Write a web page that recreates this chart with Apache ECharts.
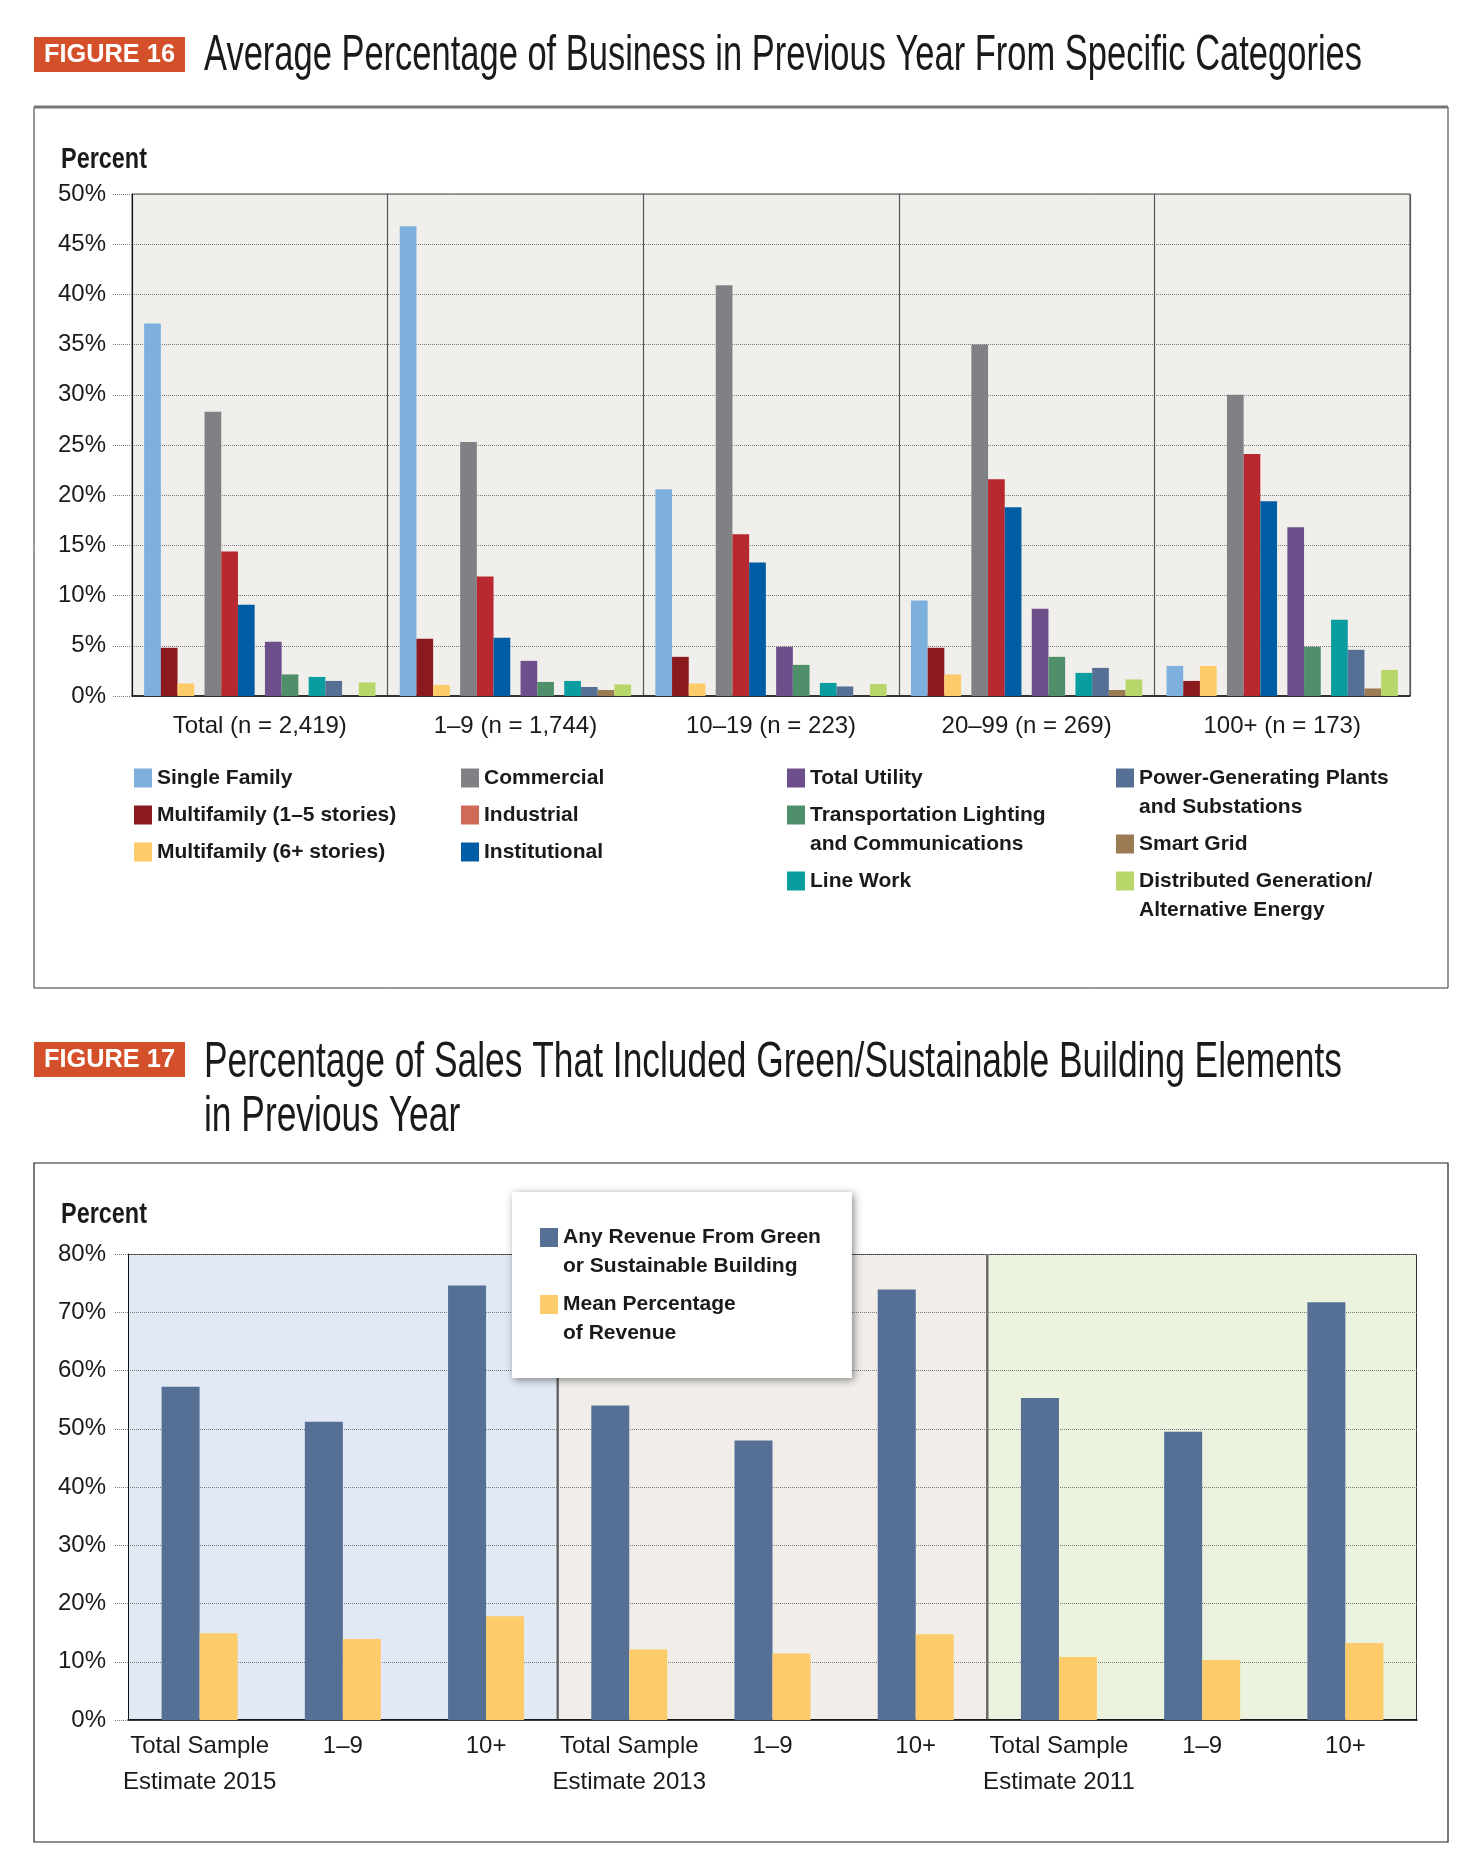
<!DOCTYPE html>
<html>
<head>
<meta charset="utf-8">
<title>Figures 16 and 17</title>
<script src="https://cdn.jsdelivr.net/npm/echarts@6/dist/echarts.min.js"></script>
<style>
  html, body { margin: 0; padding: 0; background: #fff; }
  #main { width: 1482px; height: 1876px; }
</style>
</head>
<body>
<div id="main"></div>
<script>
// ================= data: figure 16 =================
var sizeGroups = ['Total (n = 2,419)', '1–9 (n = 1,744)', '10–19 (n = 223)', '20–99 (n = 269)', '100+ (n = 173)'];

var singleFamily   = [37.1, 46.8, 20.6, 9.5, 3.0];
var multiLow       = [4.8, 5.7, 3.9, 4.8, 1.5];
var multiHigh      = [1.25, 1.1, 1.25, 2.15, 3.0];
var commercial     = [28.3, 25.3, 40.9, 35.0, 30.0];
var industrial     = [14.4, 11.9, 16.1, 21.6, 24.1];
var institutional  = [9.1, 5.8, 13.3, 18.8, 19.4];
var totalUtility   = [5.4, 3.5, 4.9, 8.7, 16.8];
var transportation = [2.15, 1.4, 3.1, 3.9, 4.9];
var lineWork       = [1.9, 1.5, 1.3, 2.3, 7.6];
var powerPlants    = [1.5, 0.9, 0.95, 2.8, 4.6];
var smartGrid      = [0, 0.6, 0, 0.6, 0.75];
var distributed    = [1.35, 1.15, 1.2, 1.65, 2.6];

var yTicks16 = { min: 0, max: 50, step: 5 };

// ================= data: figure 17 =================
var salesGroups = ['Total Sample\nEstimate 2015', '1–9', '10+',
                   'Total Sample\nEstimate 2013', '1–9', '10+',
                   'Total Sample\nEstimate 2011', '1–9', '10+'];
var surveyYears = ['2015', '2013', '2011'];
var anyRevenue  = [57.2, 51.2, 74.6, 54.0, 48.0, 73.9, 55.3, 49.5, 71.7];
var meanPercent = [14.9, 13.9, 17.8, 12.1, 11.4, 14.7, 10.8, 10.3, 13.2];

var yTicks17 = { min: 0, max: 80, step: 10 };

// ================= styles =================
var FONT = '"Liberation Sans", Arial, sans-serif';
var INK = '#1a1a1a';
var DOTS = '#7a7a7a';
var LINE_H = 29;

// series of figure 16; 'spacer' leaves the small gap between blocks of bars
var series16 = [
    { name: 'Single Family', label: 'Single Family', color: '#7eb0de', data: singleFamily },
    { name: 'Multifamily (1–5 stories)', label: 'Multifamily (1–5 stories)', color: '#8b1a1e', data: multiLow },
    { name: 'Multifamily (6+ stories)', label: 'Multifamily (6+ stories)', color: '#fdcb69', data: multiHigh },
    'spacer',
    { name: 'Commercial', label: 'Commercial', color: '#808185', data: commercial },
    { name: 'Industrial', label: 'Industrial', color: '#b7292f', legendColor: '#cd6b58', data: industrial },
    { name: 'Institutional', label: 'Institutional', color: '#005ca3', data: institutional },
    'spacer',
    { name: 'Total Utility', label: 'Total Utility', color: '#6d4f8b', data: totalUtility },
    { name: 'Transportation Lighting', label: 'Transportation Lighting\nand Communications', color: '#4f8f6a', data: transportation },
    'spacer',
    { name: 'Line Work', label: 'Line Work', color: '#0a9d9f', data: lineWork },
    { name: 'Power-Generating Plants', label: 'Power-Generating Plants\nand Substations', color: '#566f94', data: powerPlants },
    { name: 'Smart Grid', label: 'Smart Grid', color: '#9b7b53', data: smartGrid },
    { name: 'Distributed Generation', label: 'Distributed Generation/\nAlternative Energy', color: '#b8d76a', data: distributed }
];

// legend columns of figure 16 (names refer to series16)
var legendColumns = [
    { left: 134, names: ['Single Family', 'Multifamily (1–5 stories)', 'Multifamily (6+ stories)'] },
    { left: 461, names: ['Commercial', 'Industrial', 'Institutional'] },
    { left: 787, names: ['Total Utility', 'Transportation Lighting', 'Line Work'] },
    { left: 1116, names: ['Power-Generating Plants', 'Smart Grid', 'Distributed Generation'] }
];

var regionColors = ['#e1e9f5', '#f1eeea', '#ebf3df'];

/************** helpers ***************/
var measureCtx = document.createElement('canvas').getContext('2d');
function textWidth(text, font) {
    measureCtx.font = font;
    return measureCtx.measureText(text).width;
}

function findSeries(name) {
    for (var i = 0; i < series16.length; i++) {
        if (series16[i] !== 'spacer' && series16[i].name === name) return series16[i];
    }
    return null;
}

// legend text is centred on the icon, so a blank first line puts the icon
// level with the first real line of a two-line label
function legendLabel(label) {
    return label.indexOf('\n') >= 0 ? '\u00a0\n' + label : label;
}

/*************** build the chart *********************/
function initFigures() {
    var myChart = echarts.init(document.getElementById('main'), null, { renderer: 'canvas' });

    var title16 = 'Average Percentage of Business in Previous Year From Specific Categories';
    var title17a = 'Percentage of Sales That Included Green/Sustainable Building Elements';
    var title17b = 'in Previous Year';
    var titleFont = '50px ' + FONT;
    var badgeFont = 'bold 26px ' + FONT;
    var percentFont = 'bold 30px ' + FONT;
    var scale16 = 1158 / textWidth(title16, titleFont);
    var scale17 = 1138 / textWidth(title17a, titleFont);
    var badgeScale = 131 / textWidth('FIGURE 16', badgeFont);
    var percentScale = 86 / textWidth('Percent', percentFont);

    function badge(y, text) {
        return {
            type: 'group',
            children: [
                { type: 'rect', shape: { x: 34, y: y, width: 151, height: 35 }, style: { fill: '#d4502a' } },
                {
                    type: 'text', x: 109.5, y: y + 18, scaleX: badgeScale,
                    style: { text: text, font: badgeFont, fill: '#fff', align: 'center', verticalAlign: 'middle' }
                }
            ]
        };
    }

    function titleText(x, y, text, scaleX) {
        return {
            type: 'text', x: x, y: y, scaleX: scaleX,
            style: { text: text, font: titleFont, fill: INK, verticalAlign: 'middle' }
        };
    }

    function percentLabel(y) {
        return {
            type: 'text', x: 61, y: y, scaleX: percentScale,
            style: { text: 'Percent', font: percentFont, fill: INK, verticalAlign: 'middle' }
        };
    }

    // ---- series ----
    var series = [];
    series16.forEach(function (s) {
        if (s === 'spacer') {
            series.push({
                type: 'bar', xAxisIndex: 0, yAxisIndex: 0, silent: true,
                barWidth: 10.3, barGap: '0%',
                data: sizeGroups.map(function () { return null; })
            });
        } else {
            series.push({
                type: 'bar', name: s.name, xAxisIndex: 0, yAxisIndex: 0,
                barWidth: 16.7, barGap: '0%',
                itemStyle: { color: s.color },
                data: s.data
            });
        }
    });

    // background panels of figure 17, one per survey year
    series.push({
        type: 'bar', xAxisIndex: 2, yAxisIndex: 1, silent: true, z: -1,
        barWidth: '100%',
        itemStyle: { borderColor: '#333', borderWidth: 1 },
        data: surveyYears.map(function (y, i) {
            return { value: yTicks17.max, itemStyle: { color: regionColors[i] } };
        })
    });
    series.push({
        type: 'bar', name: 'Any Revenue', xAxisIndex: 1, yAxisIndex: 1,
        barWidth: 38, barGap: '0%', itemStyle: { color: '#566f94' }, data: anyRevenue
    });
    series.push({
        type: 'bar', name: 'Mean Percentage', xAxisIndex: 1, yAxisIndex: 1,
        barWidth: 38, barGap: '0%', itemStyle: { color: '#fdcb69' }, data: meanPercent
    });

    // ---- legends: one small legend per entry of figure 16 ----
    var legendText = { fontSize: 21, fontWeight: 'bold', fontFamily: FONT, color: INK, lineHeight: LINE_H };
    var legends = [];
    legendColumns.forEach(function (col) {
        var centre = 778;
        col.names.forEach(function (n) {
            var s = findSeries(n);
            var lines = s.label.split('\n').length;
            var item = { name: n };
            if (s.legendColor) item.itemStyle = { color: s.legendColor };
            legends.push({
                left: col.left,
                top: centre - (lines > 1 ? 1.5 * LINE_H : 0.5 * LINE_H),
                padding: 0, itemWidth: 18, itemHeight: 19, icon: 'rect', selectedMode: false,
                textStyle: legendText,
                data: [item],
                formatter: function (name) { return legendLabel(findSeries(name).label); }
            });
            centre += 37 + LINE_H * (lines - 1);
        });
    });
    // legend box of figure 17
    legends.push({
        left: 512, top: 1192, z: 10, orient: 'vertical',
        padding: [2, 31, 30, 28], itemGap: -20,
        itemWidth: 18, itemHeight: 19, icon: 'rect', selectedMode: false,
        backgroundColor: '#fff',
        shadowColor: 'rgba(0,0,0,0.45)', shadowBlur: 8, shadowOffsetX: 2, shadowOffsetY: 2,
        textStyle: legendText,
        data: ['Any Revenue', 'Mean Percentage'],
        formatter: function (name) {
            return legendLabel(name === 'Any Revenue'
                ? 'Any Revenue From Green\nor Sustainable Building'
                : 'Mean Percentage\nof Revenue');
        }
    });

    var axisText = { fontSize: 24, fontFamily: FONT, color: INK };

    var option = {
        backgroundColor: '#fff',
        animation: false,
        graphic: [
            badge(37, 'FIGURE 16'),
            titleText(204, 56, title16, scale16),
            { type: 'rect', shape: { x: 34, y: 107, width: 1414, height: 881 }, style: { fill: null, stroke: '#333', lineWidth: 1 } },
            { type: 'line', shape: { x1: 34, y1: 107, x2: 1448, y2: 107 }, style: { stroke: '#777', lineWidth: 3 } },
            percentLabel(160),
            badge(1042, 'FIGURE 17'),
            titleText(204, 1063, title17a, scale17),
            titleText(204, 1117, title17b, scale17),
            { type: 'rect', shape: { x: 34, y: 1163, width: 1414, height: 679 }, style: { fill: null, stroke: '#222', lineWidth: 1.2 } },
            percentLabel(1215)
        ],
        legend: legends,
        grid: [
            { left: 132, top: 194, width: 1278, height: 502, show: true, backgroundColor: '#f1efeb', borderColor: '#444', borderWidth: 1 },
            { left: 128, top: 1254, width: 1289, height: 466 }
        ],
        xAxis: [
            {
                type: 'category', gridIndex: 0, data: sizeGroups,
                axisLine: { lineStyle: { color: '#111', width: 1.5 } },
                axisTick: { interval: 0, length: 13, lineStyle: { color: '#333' } },
                splitLine: { show: true, interval: 0, lineStyle: { color: '#555', width: 1.2 } },
                axisLabel: echarts.util.extend({ interval: 0, margin: 18, fontSize: 25 }, axisText)
            },
            {
                type: 'category', gridIndex: 1, data: salesGroups, position: 'bottom',
                axisLine: { lineStyle: { color: '#111', width: 1.5 } },
                axisTick: { interval: 0, length: 13, lineStyle: { color: '#222' } },
                axisLabel: echarts.util.extend({ interval: 0, margin: 8, fontSize: 23, lineHeight: 36 }, axisText)
            },
            {
                type: 'category', gridIndex: 1, data: surveyYears, position: 'top',
                axisLine: { show: false }, axisTick: { show: false }, axisLabel: { show: false }
            },
            {
                type: 'category', gridIndex: 1, data: salesGroups, position: 'bottom',
                axisLine: { show: false }, axisLabel: { show: false },
                axisTick: { inside: true, interval: 0, length: 13, lineStyle: { color: '#222' } }
            }
        ],
        yAxis: [
            {
                type: 'value', gridIndex: 0, min: yTicks16.min, max: yTicks16.max, interval: yTicks16.step,
                axisLine: { show: true, lineStyle: { color: '#111' } },
                axisTick: { show: true, length: 19, lineStyle: { color: DOTS, type: 'dotted' } },
                splitLine: { lineStyle: { color: DOTS, type: 'dotted' } },
                axisLabel: echarts.util.extend({ formatter: '{value}%', margin: 26 }, axisText)
            },
            {
                type: 'value', gridIndex: 1, min: yTicks17.min, max: yTicks17.max, interval: yTicks17.step,
                axisLine: { show: true, lineStyle: { color: '#111' } },
                axisTick: { show: true, length: 14, lineStyle: { color: DOTS, type: 'dotted' } },
                splitLine: { lineStyle: { color: DOTS, type: 'dotted' } },
                axisLabel: echarts.util.extend({ formatter: '{value}%', margin: 22 }, axisText)
            }
        ],
        series: series
    };

    myChart.setOption(option);
}

initFigures();
</script>
</body>
</html>
